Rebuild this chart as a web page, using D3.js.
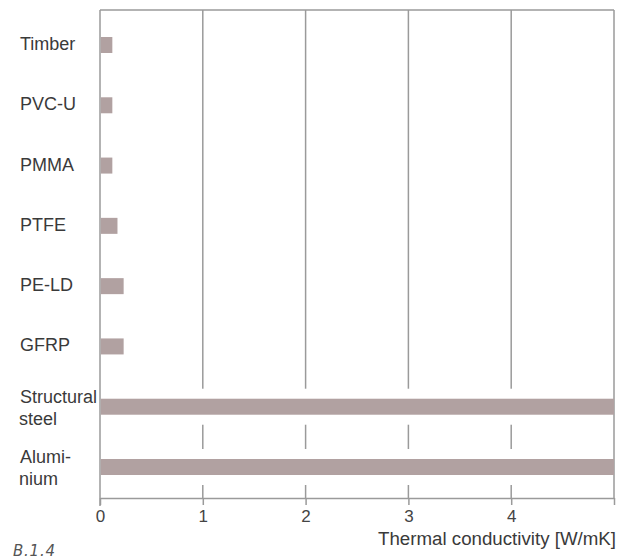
<!DOCTYPE html>
<html><head><meta charset="utf-8">
<script src="https://cdn.jsdelivr.net/npm/d3@7"></script>
<style>body{margin:0;background:#fff;}svg{display:block;}</style>
</head><body>
<svg id="chart" width="628" height="560"></svg>
<script>
const categories = [["Timber"],["PVC-U"],["PMMA"],["PTFE"],["PE-LD"],["GFRP"],["Structural","steel"],["Alumi-","nium"]];
const values = [0.12, 0.12, 0.12, 0.17, 0.23, 0.23, 60, 200];
const tickValues = [0,1,2,3,4,5];
const tickLabels = ["0","1","2","3","4",""];
const axisTitle = "Thermal conductivity [W/mK]";
const figLabel = "B.1.4";

const svg = d3.select("#chart");
const L=100, R=614, T=10, B=498;
const x = d3.scaleLinear().domain([0,5]).range([L,R]).clamp(true);
const keys = categories.map(c=>c.join(" "));
const y = d3.scalePoint().domain(keys).range([45,467]);
const barH = 16;
const gridColor = "#9a9a9a";
const font = "'Liberation Sans', Arial, sans-serif";

// grid lines
svg.append("g").selectAll("line").data([1,2,3,4]).join("line")
  .attr("x1",d=>x(d)).attr("x2",d=>x(d)).attr("y1",T).attr("y2",B)
  .attr("stroke",gridColor).attr("stroke-width",1.5);

// white halos behind bars
svg.append("g").selectAll("rect").data(values).join("rect")
  .attr("x",L+1).attr("width",(d)=>Math.max(0,x(d)-L-1))
  .attr("y",(d,i)=>y(keys[i])-barH/2-10).attr("height",barH+20)
  .attr("fill","#fff");

// frame top & right
svg.append("line").attr("x1",L).attr("x2",R).attr("y1",T).attr("y2",T).attr("stroke",gridColor).attr("stroke-width",1.5);
svg.append("line").attr("x1",R).attr("x2",R).attr("y1",T).attr("y2",B).attr("stroke",gridColor).attr("stroke-width",1.5);
// left axis
svg.append("line").attr("x1",L).attr("x2",L).attr("y1",T).attr("y2",B+8).attr("stroke",gridColor).attr("stroke-width",1.5);

// bottom axis
const axis = d3.axisBottom(x).tickValues(tickValues).tickFormat((d,i)=>tickLabels[i]).tickSize(7).tickPadding(5).tickSizeOuter(0);
const gx = svg.append("g").attr("transform",`translate(0,${B})`).call(axis);
gx.select(".domain").attr("stroke",gridColor).attr("stroke-width",1.5);
gx.selectAll(".tick line").attr("stroke",gridColor).attr("stroke-width",1.5);
gx.selectAll(".tick text").attr("fill","#444").attr("font-size",17).attr("font-family",font);

// bars
svg.append("g").selectAll("rect").data(values).join("rect")
  .attr("x",L+0.75).attr("width",d=>x(d)-L-0.75)
  .attr("y",(d,i)=>y(keys[i])-barH/2).attr("height",barH)
  .attr("fill","#b1a1a1");

// category labels
const lab = svg.append("g").selectAll("text").data(categories).join("text")
  .attr("font-family",font).attr("font-size",18).attr("fill","#3a3a3a")
  .attr("x",19)
  .attr("y",(d,i)=>y(keys[i]) + (d.length===1 ? 5 : -4));
lab.each(function(d){
  const t=d3.select(this);
  d.forEach((s,j)=>t.append("tspan").attr("x",j?19:20).attr("dy",j?22:0).text(s));
});

// axis title
svg.append("text").attr("x",616).attr("y",545).attr("text-anchor","end")
  .attr("font-family",font).attr("font-size",18).attr("fill","#3a3a3a")
  .attr("textLength",238).attr("lengthAdjust","spacingAndGlyphs").text(axisTitle);

// figure label
svg.append("text").attr("x",13).attr("y",556)
  .attr("font-family","'DejaVu Sans', sans-serif").attr("font-style","italic").attr("font-weight",300)
  .attr("font-size",15).attr("fill","#555").attr("textLength",42).text(figLabel);
</script>
</body></html>
